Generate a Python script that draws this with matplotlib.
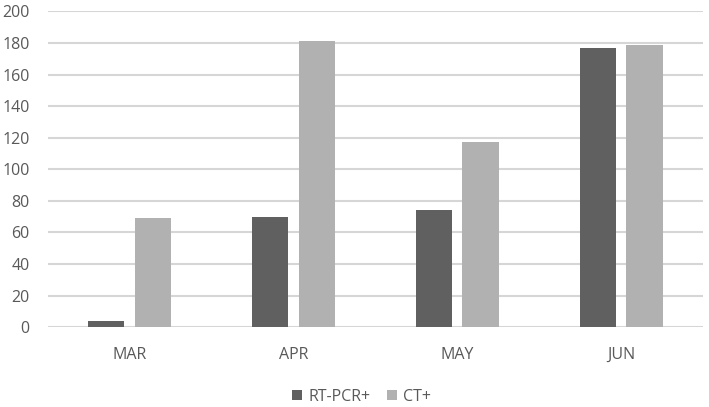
import matplotlib.pyplot as plt
import numpy as np

months = ['MAR', 'APR', 'MAY', 'JUN']
rt_pcr = [4, 70, 74, 177]
ct = [69, 181, 117, 179]

plt.rcParams['font.family'] = ['Open Sans', 'DejaVu Sans']

fig = plt.figure(figsize=(7.09, 4.07), dpi=100)
ax = fig.add_axes([0.067, 0.196, 0.925, 0.776])

x = np.arange(len(months))
w = 0.22
ax.bar(x - 0.141, rt_pcr, w, color='#606060', label='RT-PCR+', zorder=3)
ax.bar(x + 0.141, ct, w, color='#b1b1b1', label='CT+', zorder=3)

ax.set_xlim(-0.5, 3.5)
ax.set_ylim(0, 200)
ax.set_yticks(range(0, 201, 20))
ax.set_xticks(x)
ax.set_xticklabels(months)
ax.yaxis.grid(True, color='#d6d6d6', linewidth=1.5, zorder=0)
ax.set_axisbelow(True)
for s in ax.spines.values():
    s.set_visible(False)
ax.tick_params(axis='both', length=0, labelsize=11.5, labelcolor='#595959')
ax.tick_params(axis='y', pad=13)
ax.tick_params(axis='x', pad=14)

ax.legend(loc='center', bbox_to_anchor=(0.479, -0.22), ncol=2, frameon=False,
          fontsize=11.5, handlelength=0.65, handleheight=0.65, handletextpad=0.4,
          columnspacing=1.0, labelcolor='#595959')

fig.savefig('out.png', dpi=100)
plt.close(fig)
